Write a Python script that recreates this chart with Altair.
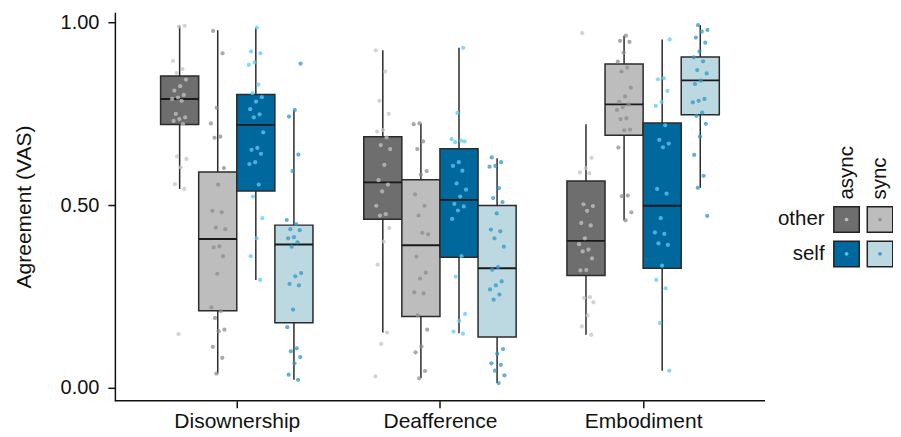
import altair as alt
import pandas as pd

categories = ["Disownership", "Deafference", "Embodiment"]
groups = ["other-async", "other-sync", "self-async", "self-sync"]
agents = ["other", "self"]
timings = ["async", "sync"]
box_fill = ["#6e6e6e", "#bdbdbd", "#00689d", "#bcd9e1"]
point_colors = ["#c4c4c4", "#8e8e8e", "#5cccf4", "#2f97c8"]

# box statistics, category-major, groups in order above
lower_whisker = [0.544, 0.039, 0.295, 0.022,
                 0.151, 0.027, 0.149, 0.013,
                 0.145, 0.458, 0.047, 0.547]
q1 = [0.720, 0.211, 0.538, 0.178,
      0.461, 0.195, 0.357, 0.139,
      0.307, 0.691, 0.327, 0.747]
median = [0.790, 0.407, 0.719, 0.392,
          0.562, 0.390, 0.514, 0.327,
          0.402, 0.775, 0.498, 0.841]
q3 = [0.853, 0.590, 0.802, 0.445,
      0.687, 0.569, 0.654, 0.499,
      0.566, 0.886, 0.724, 0.905]
upper_whisker = [0.990, 0.978, 0.984, 0.759,
                 0.923, 0.723, 0.930, 0.628,
                 0.721, 0.963, 0.953, 0.992]

# individual ratings
dis_other_async = [0.990, 0.988, 0.894, 0.872, 0.861, 0.843, 0.825, 0.813, 0.801, 0.794, 0.790, 0.785,
                   0.749, 0.740, 0.735, 0.730, 0.721, 0.633, 0.626, 0.603, 0.557, 0.544, 0.147]
dis_other_sync = [0.976, 0.915, 0.766, 0.723, 0.687, 0.684, 0.601, 0.556, 0.484, 0.480, 0.438, 0.434,
                  0.387, 0.384, 0.360, 0.312, 0.220, 0.210, 0.191, 0.159, 0.155, 0.112, 0.082, 0.039]
dis_self_async = [0.985, 0.920, 0.915, 0.890, 0.883, 0.829, 0.806, 0.795, 0.783, 0.762, 0.748, 0.740,
                  0.699, 0.656, 0.651, 0.640, 0.617, 0.612, 0.556, 0.523, 0.464, 0.409, 0.360, 0.295]
dis_self_sync = [0.887, 0.760, 0.742, 0.638, 0.593, 0.459, 0.448, 0.434, 0.431, 0.412, 0.409, 0.398,
                 0.386, 0.314, 0.305, 0.284, 0.280, 0.214, 0.166, 0.108, 0.100, 0.084, 0.067, 0.036, 0.022]
dea_other_async = [0.923, 0.865, 0.785, 0.749, 0.705, 0.701, 0.685, 0.664, 0.653, 0.610, 0.568, 0.556,
                   0.537, 0.498, 0.475, 0.471, 0.437, 0.400, 0.337, 0.151, 0.120, 0.031]
dea_other_sync = [0.723, 0.721, 0.674, 0.653, 0.593, 0.583, 0.529, 0.498, 0.471, 0.420, 0.424, 0.359,
                  0.315, 0.299, 0.261, 0.258, 0.198, 0.159, 0.113, 0.097, 0.046, 0.026]
dea_self_async = [0.930, 0.752, 0.680, 0.676, 0.672, 0.674, 0.617, 0.607, 0.594, 0.559, 0.542, 0.523,
                  0.503, 0.496, 0.485, 0.462, 0.360, 0.304, 0.202, 0.183, 0.154, 0.148]
dea_self_sync = [0.630, 0.617, 0.607, 0.605, 0.546, 0.519, 0.508, 0.477, 0.433, 0.428, 0.409, 0.386,
                 0.330, 0.323, 0.291, 0.280, 0.269, 0.255, 0.241, 0.106, 0.093, 0.067, 0.063, 0.047,
                 0.034, 0.013]
emb_other_async = [0.970, 0.629, 0.601, 0.589, 0.587, 0.502, 0.497, 0.484, 0.451, 0.444, 0.409, 0.393,
                   0.378, 0.373, 0.354, 0.322, 0.321, 0.248, 0.246, 0.234, 0.198, 0.168, 0.145]
emb_other_sync = [0.963, 0.949, 0.946, 0.917, 0.892, 0.876, 0.865, 0.821, 0.797, 0.782, 0.775, 0.768,
                  0.760, 0.737, 0.735, 0.706, 0.704, 0.657, 0.526, 0.524, 0.480, 0.458]
emb_self_async = [0.953, 0.847, 0.844, 0.812, 0.782, 0.771, 0.718, 0.678, 0.668, 0.658, 0.544, 0.531,
                  0.464, 0.425, 0.421, 0.395, 0.391, 0.334, 0.295, 0.272, 0.177, 0.047]
emb_self_sync = [0.992, 0.979, 0.974, 0.958, 0.944, 0.920, 0.904, 0.893, 0.869, 0.860, 0.840, 0.831,
                 0.790, 0.785, 0.781, 0.753, 0.744, 0.722, 0.687, 0.637, 0.580, 0.547, 0.470]

point_lists = [
    [dis_other_async, dis_other_sync, dis_self_async, dis_self_sync],
    [dea_other_async, dea_other_sync, dea_self_async, dea_self_sync],
    [emb_other_async, emb_other_sync, emb_self_async, emb_self_sync],
]

# ---- tables built from the arrays ----
stat_rows = []
pt_rows = []
for ci, cat in enumerate(categories):
    for gi, g in enumerate(groups):
        i = ci * 4 + gi
        stat_rows.append(dict(cat=cat, ci=ci + 1, group=g, gi=gi,
                              lo=lower_whisker[i], q1=q1[i], med=median[i],
                              q3=q3[i], hi=upper_whisker[i]))
        for k, v in enumerate(point_lists[ci][gi]):
            pt_rows.append(dict(cat=cat, ci=ci + 1, group=g, gi=gi, k=k, val=v))
stats = pd.DataFrame(stat_rows)
points = pd.DataFrame(pt_rows)

leg_rows = []
for ai, a in enumerate(agents):
    for ti, t in enumerate(timings):
        leg_rows.append(dict(group=f"{a}-{t}", agent=a, timing=t, col=ti, row=ai))
leg = pd.DataFrame(leg_rows)

# ---- geometry ----
DODGE = 0.75 / 4
HALF = DODGE / 2
UNIT_PX = 203.4            # pixels per category step
PLOT_W = 777
PLOT_H = 389
X_LO, X_HI = 0.4, 3.6      # extent of the category axis line
Y_LO, Y_HI = -0.0355, 1.0273
# legend grid placed in the free space right of the panels
LEG_X0, LEG_DX = X_HI + 0.4013, 33.5 / UNIT_PX
LEG_Y0, LEG_DY = 0.4604, 34.5 / 366

FONT = "Liberation Sans"
label_expr = " : ".join(
    f"datum.value == {i + 1} ? '{c}'" for i, c in enumerate(categories[:-1])
) + f" : '{categories[-1]}'"

x_scale = alt.Scale(domain=[X_LO, X_LO + PLOT_W / UNIT_PX], nice=False, zero=False)
y_scale = alt.Scale(domain=[Y_LO, Y_HI], nice=False, zero=False)
x_axis = alt.Axis(values=[1, 2, 3], labelExpr=label_expr, title=None, grid=False, domain=False,
                  tickSize=7, labelPadding=3, labelFontSize=21, labelFont=FONT,
                  labelColor="#111", tickColor="#111", tickWidth=1.5)
y_axis = alt.Axis(values=[0, 0.5, 1], format=".2f", title="Agreement (VAS)", grid=False,
                  tickSize=7, labelPadding=9, labelFontSize=20, labelFont=FONT,
                  labelColor="#111", titleFont=FONT, titleFontSize=21,
                  titleFontWeight="normal", titleColor="#111", titlePadding=26,
                  domainColor="#111", tickColor="#111", domainWidth=1.5, tickWidth=1.5)
fill_scale = alt.Scale(domain=groups, range=box_fill)
pt_scale = alt.Scale(domain=groups, range=point_colors)

# x axis line spanning the category range only
baseline = alt.Chart(pd.DataFrame({"x0": [X_LO], "x1": [X_HI], "y0": [Y_LO]})).mark_rule(
    color="#111", strokeWidth=1.5).encode(
    x=alt.X("x0:Q", scale=x_scale, axis=x_axis), x2="x1:Q",
    y=alt.Y("y0:Q", scale=y_scale, axis=y_axis))

sbase = alt.Chart(stats).transform_calculate(
    xc=f"datum.ci + (datum.gi - 1.5) * {DODGE}",
    xl=f"datum.ci + (datum.gi - 1.5) * {DODGE} - {HALF}",
    xr=f"datum.ci + (datum.gi - 1.5) * {DODGE} + {HALF}",
)
whiskers = sbase.mark_rule(color="#2b2b2b", strokeWidth=1.5).encode(
    x=alt.X("xc:Q", scale=x_scale, axis=x_axis),
    y=alt.Y("lo:Q", scale=y_scale, axis=y_axis),
    y2="hi:Q",
)
boxes = sbase.mark_rect(stroke="#2b2b2b", strokeWidth=1.5).encode(
    x=alt.X("xl:Q", scale=x_scale, axis=x_axis),
    x2="xr:Q",
    y=alt.Y("q1:Q", scale=y_scale, axis=y_axis),
    y2="q3:Q",
    fill=alt.Fill("group:N", scale=fill_scale, legend=None),
)
medians = sbase.mark_rule(color="#1a1a1a", strokeWidth=1.8).encode(
    x=alt.X("xl:Q", scale=x_scale, axis=x_axis),
    x2="xr:Q",
    y=alt.Y("med:Q", scale=y_scale, axis=y_axis),
)
dots = alt.Chart(points).transform_calculate(
    xp=f"datum.ci + (datum.gi - 1.5) * {DODGE} + "
       f"((((datum.k + 1) * 0.6180339 + datum.gi * 0.37 + datum.ci * 0.21) % 1) - 0.5) * 0.075"
).mark_circle(size=18, opacity=0.75).encode(
    x=alt.X("xp:Q", scale=x_scale, axis=x_axis),
    y=alt.Y("val:Q", scale=y_scale, axis=y_axis),
    color=alt.Color("group:N", scale=pt_scale, legend=None),
)

# ---- legend grid ----
lbase = alt.Chart(leg).transform_calculate(
    lx=f"{LEG_X0} + datum.col * {LEG_DX}",
    ly=f"{LEG_Y0} - datum.row * {LEG_DY}",
)
lx = alt.X("lx:Q", scale=x_scale, axis=x_axis)
ly = alt.Y("ly:Q", scale=y_scale, axis=y_axis)
keys = lbase.mark_square(size=650, stroke="#222", strokeWidth=1.5, opacity=1).encode(
    x=lx, y=ly, fill=alt.Fill("group:N", scale=fill_scale, legend=None))
kdots = lbase.mark_circle(size=14, opacity=0.9).encode(
    x=lx, y=ly, color=alt.Color("group:N", scale=pt_scale, legend=None))
row_labels = lbase.transform_filter("datum.col == 0").mark_text(
    align="right", baseline="middle", dx=-22, fontSize=20.5, font=FONT, color="#111").encode(
    x=lx, y=ly, text="agent:N")
col_labels = lbase.transform_filter("datum.row == 0").mark_text(
    align="left", baseline="middle", angle=270, dx=20, fontSize=20.5, font=FONT, color="#111").encode(
    x=lx, y=ly, text="timing:N")

chart = alt.layer(baseline, whiskers, boxes, medians, dots,
                  keys, kdots, row_labels, col_labels).properties(
    width=PLOT_W, height=PLOT_H,
    padding={"left": 5, "top": 3, "right": -3, "bottom": 0},
).configure_view(stroke=None)

chart.save("out.html", embed_options={"renderer": "svg", "actions": False})
